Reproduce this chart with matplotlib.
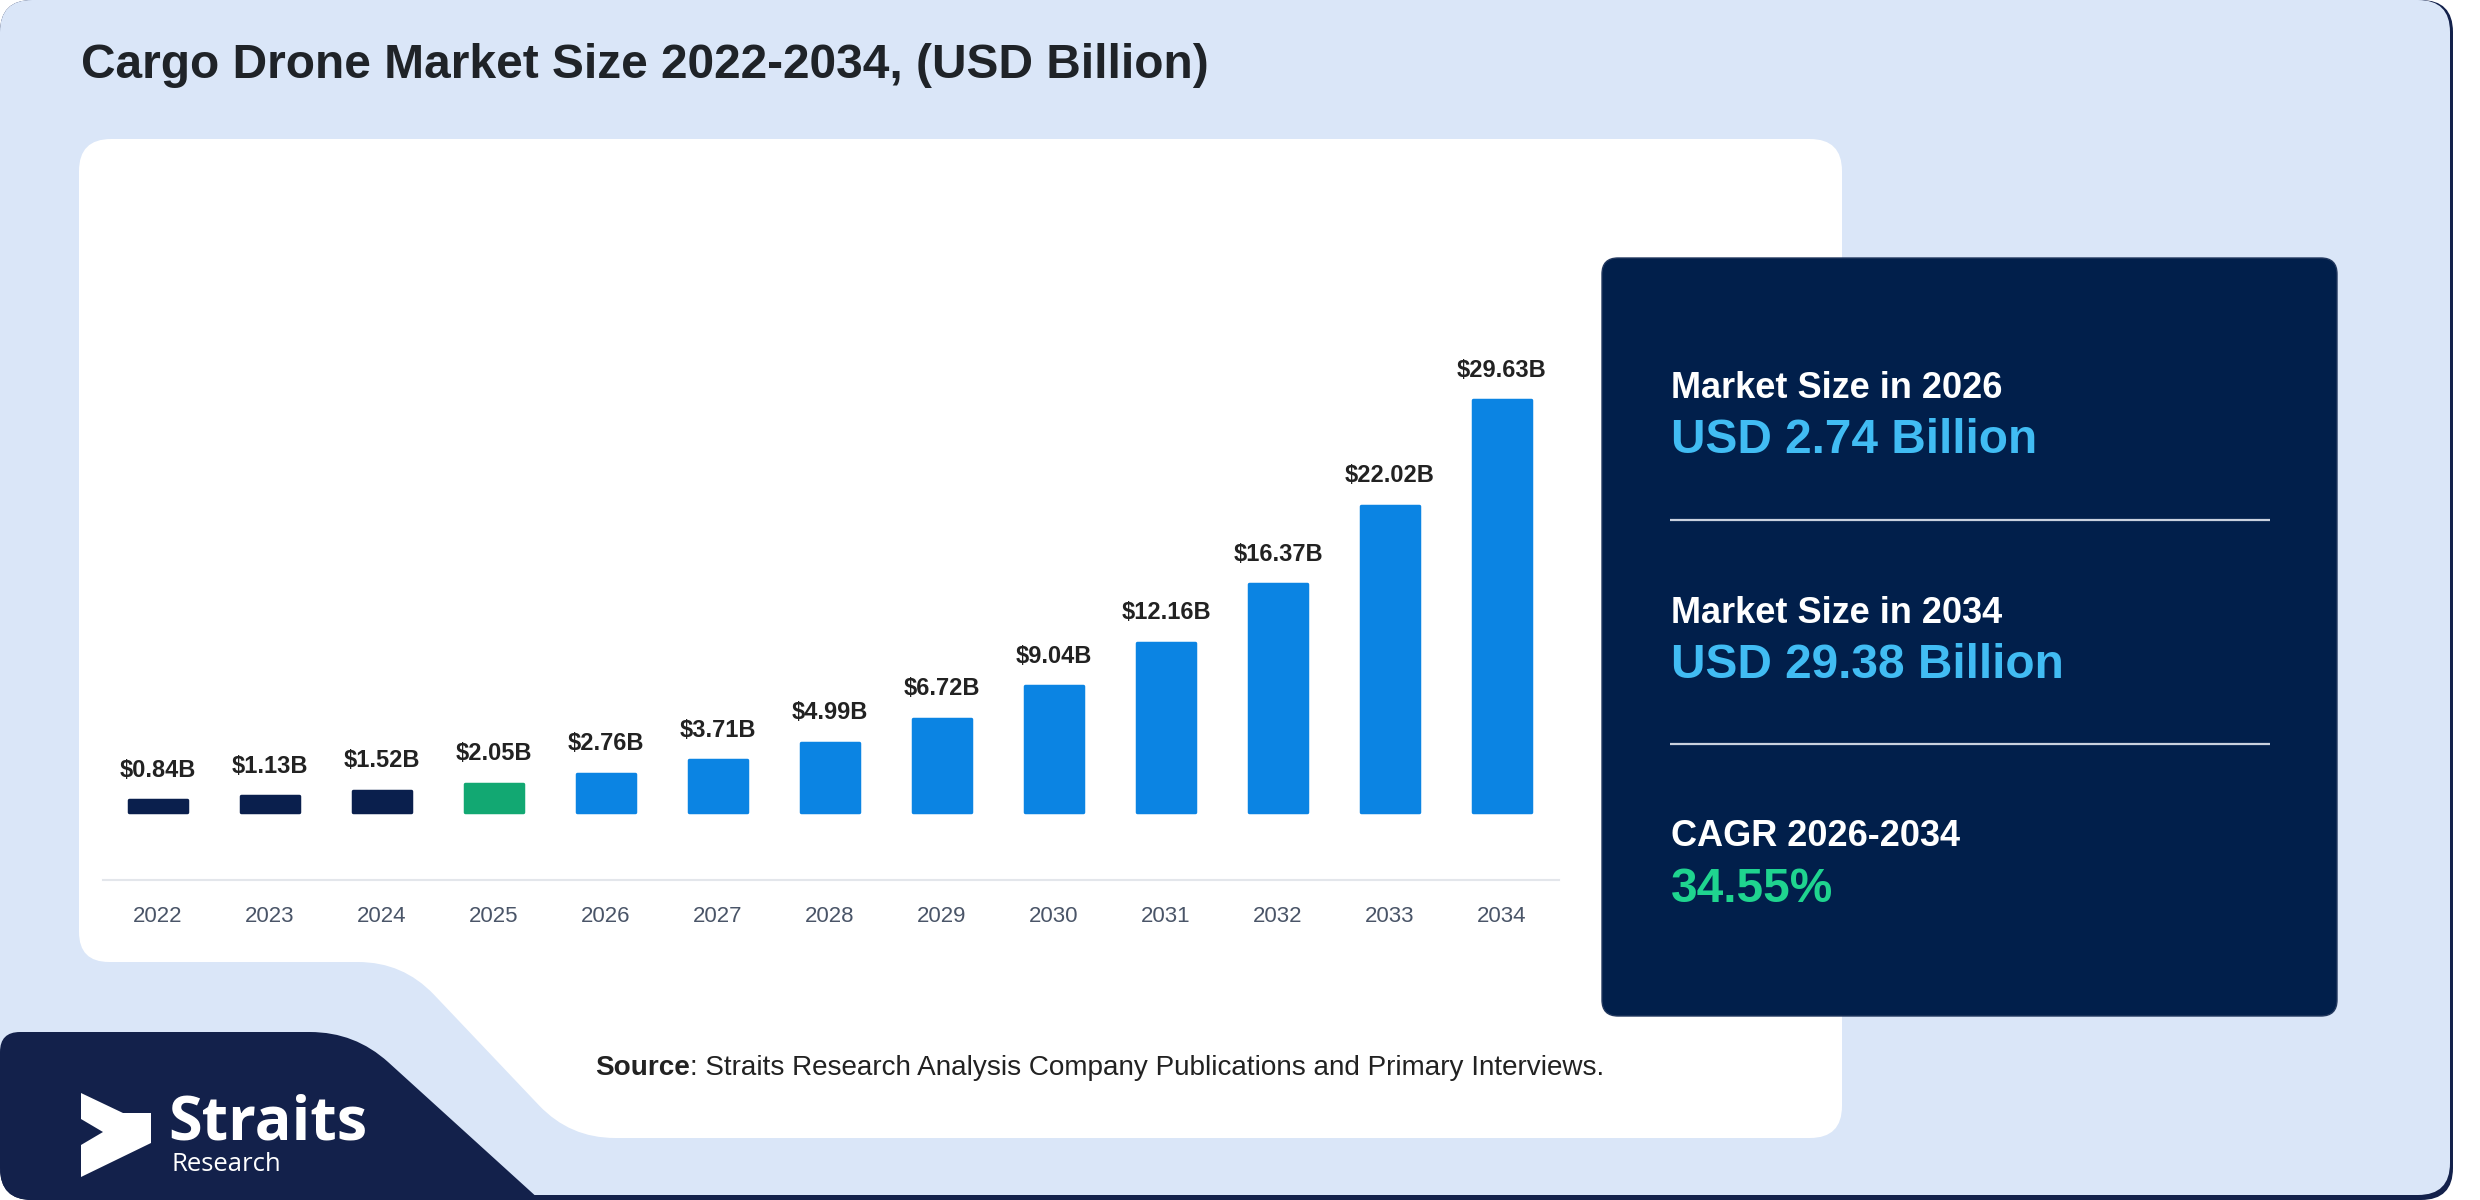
import numpy as np
import matplotlib
matplotlib.use("Agg")
import matplotlib.pyplot as plt
from matplotlib.path import Path
from matplotlib.patches import PathPatch, FancyBboxPatch, Polygon

# data
years = ["2022", "2023", "2024", "2025", "2026", "2027", "2028",
         "2029", "2030", "2031", "2032", "2033", "2034"]
market_size = [0.84, 1.13, 1.52, 2.05, 2.76, 3.71, 4.99,
               6.72, 9.04, 12.16, 16.37, 22.02, 29.63]
base_year = "2025"

kpi_titles = ["Market Size in 2026", "Market Size in 2034", "CAGR 2026-2034"]
kpi_values = ["USD 2.74 Billion", "USD 29.38 Billion", "34.55%"]

title = "Cargo Drone Market Size 2022-2034, (USD Billion)"
source_bold = "Source"
source_rest = ": Straits Research Analysis Company Publications and Primary Interviews."

# colours
BG_BLUE = "#dae6f8"
NAVY = "#13214b"
PANEL = "#011f4b"
BAR_HIST = "#0a1f4d"
BAR_BASE = "#12a872"
BAR_FCST = "#0b84e3"
KPI_BLUE = "#41bcf3"
KPI_GREEN = "#1fd48f"

W, H = 2480, 1200
FONT = "Liberation Sans"


def rounded_path(pts, radii):
    # polygon with quadratic-rounded corners, radius per vertex (pixels)
    verts, codes = [], []
    n = len(pts)
    for i in range(n):
        p0 = np.array(pts[i - 1], float)
        p1 = np.array(pts[i], float)
        p2 = np.array(pts[(i + 1) % n], float)
        d1, d2 = p0 - p1, p2 - p1
        l1, l2 = np.hypot(*d1), np.hypot(*d2)
        r = min(radii[i], l1 / 2, l2 / 2)
        a = p1 + d1 / l1 * r
        b = p1 + d2 / l2 * r
        verts.append(a)
        codes.append(Path.MOVETO if i == 0 else Path.LINETO)
        verts += [p1, b]
        codes += [Path.CURVE3, Path.CURVE3]
    verts.append(verts[0])
    codes.append(Path.CLOSEPOLY)
    return Path(verts, codes)


fig = plt.figure(figsize=(W / 100, H / 100), dpi=100, facecolor="white")
bg = fig.add_axes([0, 0, 1, 1])
bg.set_xlim(0, W)
bg.set_ylim(H, 0)
bg.axis("off")

# outer card with a thin navy shadow under it
shadow = FancyBboxPatch((0, 0), 2453, 1200, boxstyle="round,pad=0,rounding_size=32",
                        fc=NAVY, ec="none")
bg.add_patch(shadow)
bg.add_patch(FancyBboxPatch((0, 0), 2450, 1195, boxstyle="round,pad=0,rounding_size=32",
                            fc=BG_BLUE, ec="none"))

# navy logo block, bottom left
logo_block = PathPatch(rounded_path([(0, 1032), (355, 1032), (540, 1200), (0, 1200)],
                                    [20, 45, 0, 0]), fc=NAVY, ec="none")
bg.add_patch(logo_block)
logo_block.set_clip_path(shadow)

# white chart card with the cut corner
bg.add_patch(PathPatch(rounded_path([(79, 139), (1842, 139), (1842, 1138), (570, 1138),
                                     (403, 962), (79, 962)],
                                    [32, 32, 32, 45, 45, 30]), fc="white", ec="none"))

# dark key-figures panel
bg.add_patch(FancyBboxPatch((1602, 258), 735, 758, boxstyle="round,pad=0,rounding_size=16",
                            fc=PANEL, ec="#22385f", lw=1))

bg.text(81, 78, title, fontsize=34.5, fontweight="bold", color="#1f2328",
        family=FONT, va="baseline", ha="left")

title_y = [398, 623, 846]
value_y = [453, 678, 902]
value_colors = [KPI_BLUE, KPI_BLUE, KPI_GREEN]
for t, v, ty, vy, c in zip(kpi_titles, kpi_values, title_y, value_y, value_colors):
    bg.text(1671, ty, t, fontsize=26, fontweight="bold", color="white",
            family=FONT, va="baseline")
    bg.text(1671, vy, v, fontsize=34.4, fontweight="bold", color=c,
            family=FONT, va="baseline")
for ly in [520, 744]:
    bg.plot([1670, 2270], [ly, ly], color="#c9d1de", lw=1.6, solid_capstyle="butt")

# source line
src = bg.text(595, 1075, source_bold, fontsize=20.1, fontweight="bold", color="#222222",
              family=FONT, va="baseline", ha="left")
fig.canvas.draw()
ext = src.get_window_extent(fig.canvas.get_renderer())
x_end = bg.transData.inverted().transform((ext.x1, 0))[0]
bg.text(x_end, 1075, source_rest, fontsize=20.1, color="#222222",
        family=FONT, va="baseline", ha="left")

# logo mark and wordmark
bg.add_patch(Polygon([(81, 1093), (123, 1113), (151, 1113), (151, 1143), (81, 1177),
                      (81, 1145), (103, 1132), (81, 1119)], closed=True,
                     fc="white", ec="none"))
bg.text(168, 1139, "Straits", fontsize=44, fontweight="bold", color="white",
        family="Open Sans", va="baseline")
bg.text(171, 1171, "Research", fontsize=18.5, color="white",
        family="Open Sans", va="baseline")

# bar chart, axes placed so that 0 sits at y=812 px and 1B = 13.9 px
ax_left, ax_right, ax_top, ax_bottom = 103, 1559, 200, 880
ax = fig.add_axes([ax_left / W, (H - ax_bottom) / H,
                   (ax_right - ax_left) / W, (ax_bottom - ax_top) / H])
ax.set_facecolor("none")
px_per_unit = 13.9
px_per_cat = 112
y0 = -(ax_bottom - 812) / px_per_unit
ax.set_ylim(y0, y0 + (ax_bottom - ax_top) / px_per_unit)
x0 = (ax_left - 158) / px_per_cat
ax.set_xlim(x0, x0 + (ax_right - ax_left) / px_per_cat)

base_idx = years.index(base_year)
colors = [BAR_HIST if i < base_idx else BAR_BASE if i == base_idx else BAR_FCST
          for i in range(len(years))]
xs = np.arange(len(years))
ax.bar(xs, market_size, width=0.51, color=colors, edgecolor=colors, linewidth=2.5,
       joinstyle="round")

for x, v in zip(xs, market_size):
    ax.annotate(f"${v:.2f}B", (x, v), xytext=(0, 17), textcoords="offset points",
                ha="center", va="baseline", fontsize=17, fontweight="bold",
                color="#222222", family=FONT, annotation_clip=False)

ax.set_xticks(xs, years)
ax.tick_params(axis="x", length=0, pad=18.5, labelsize=16, labelcolor="#4a5568")
for lab in ax.get_xticklabels():
    lab.set_family(FONT)
ax.set_yticks([])
for s in ["left", "right", "top"]:
    ax.spines[s].set_visible(False)
ax.spines["bottom"].set_color("#e3e6eb")
ax.spines["bottom"].set_linewidth(1.5)

fig.savefig("out.png", dpi=100, facecolor="white")
